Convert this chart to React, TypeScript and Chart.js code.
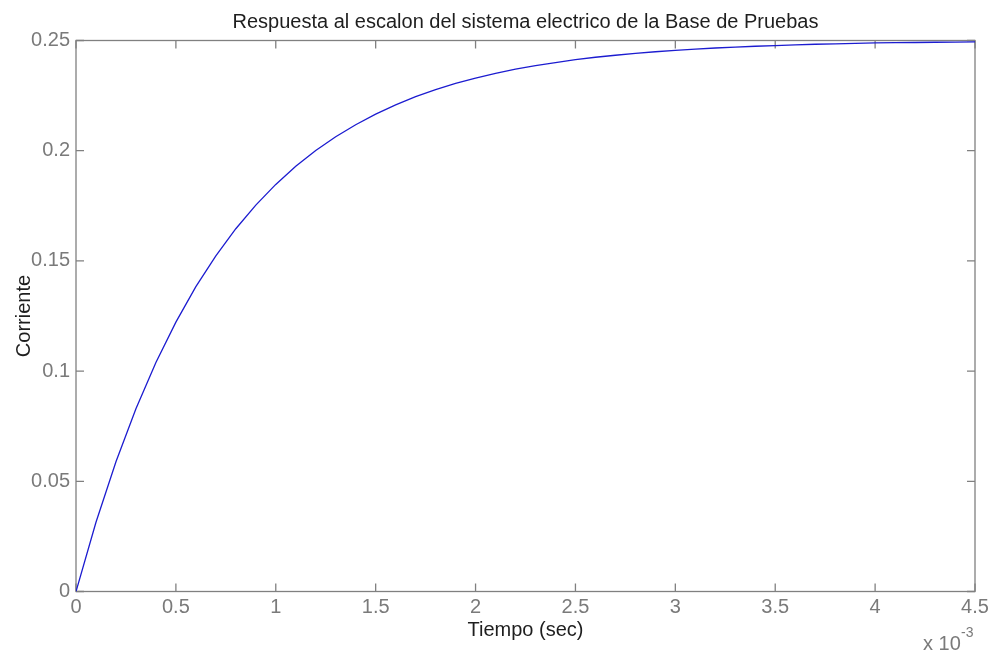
import React, { useEffect, useRef } from "react";
import { Chart, registerables } from "chart.js";

Chart.register(...registerables);

// Time in units of 10^-3 s
const timeMs = [
  0, 0.1, 0.2, 0.3, 0.4, 0.5, 0.6, 0.7, 0.8, 0.9, 1.0, 1.1, 1.2, 1.3, 1.4,
  1.5, 1.6, 1.7, 1.8, 1.9, 2.0, 2.1, 2.2, 2.3, 2.4, 2.5, 2.6, 2.7, 2.8, 2.9,
  3.0, 3.1, 3.2, 3.3, 3.4, 3.5, 3.6, 3.7, 3.8, 3.9, 4.0, 4.1, 4.2, 4.3, 4.4,
  4.5,
];
const current = [
  0, 0.0314, 0.0589, 0.0829, 0.1039, 0.1222, 0.1383, 0.1523, 0.1646, 0.1753,
  0.1847, 0.1929, 0.2001, 0.2063, 0.2118, 0.2166, 0.2208, 0.2245, 0.2277,
  0.2305, 0.2329, 0.2351, 0.237, 0.2386, 0.24, 0.2413, 0.2424, 0.2433,
  0.2442, 0.2449, 0.2455, 0.2461, 0.2466, 0.247, 0.2474, 0.2477, 0.248,
  0.2483, 0.2485, 0.2487, 0.2489, 0.249, 0.2491, 0.2492, 0.2493, 0.2494,
];
const xTicks = [0, 0.5, 1, 1.5, 2, 2.5, 3, 3.5, 4, 4.5];
const xTickLabels = ["0", "0.5", "1", "1.5", "2", "2.5", "3", "3.5", "4", "4.5"];
const yTicks = [0, 0.05, 0.1, 0.15, 0.2, 0.25];
const yTickLabels = ["0", "0.05", "0.1", "0.15", "0.2", "0.25"];
const titleText = "Respuesta al escalon del sistema electrico de la Base de Pruebas";
const xLabel = "Tiempo (sec)";
const yLabel = "Corriente";
const xMultiplier = "x 10";
const xExponent = "-3";

const FONT = "'Liberation Sans', Arial, sans-serif";
const AXIS_COLOR = "#808080";
const TICK_TEXT = "#7a7a7a";
const LABEL_TEXT = "#1e1e1e";

const framePlugin = {
  id: "matlabFrame",
  beforeDatasetsDraw(chart: any) {
    const { ctx, chartArea, scales } = chart;
    const { left, right, top, bottom } = chartArea;
    ctx.save();
    ctx.strokeStyle = AXIS_COLOR;
    ctx.lineWidth = 1.3;
    ctx.strokeRect(left, top, right - left, bottom - top);
    const tl = 8;
    ctx.beginPath();
    xTicks.forEach((v) => {
      const px = scales.x.getPixelForValue(v);
      ctx.moveTo(px, bottom);
      ctx.lineTo(px, bottom - tl);
      ctx.moveTo(px, top);
      ctx.lineTo(px, top + tl);
    });
    yTicks.forEach((v) => {
      const py = scales.y.getPixelForValue(v);
      ctx.moveTo(left, py);
      ctx.lineTo(left + tl, py);
      ctx.moveTo(right, py);
      ctx.lineTo(right - tl, py);
    });
    ctx.stroke();
    ctx.restore();
  },
  afterDraw(chart: any) {
    const { ctx, chartArea } = chart;
    const { left, right, top, bottom } = chartArea;
    const cx = (left + right) / 2;
    const cy = (top + bottom) / 2;
    ctx.save();
    ctx.font = `20px ${FONT}`;
    ctx.fillStyle = LABEL_TEXT;
    ctx.textAlign = "center";
    ctx.textBaseline = "alphabetic";
    ctx.fillText(titleText, cx, 28);
    ctx.fillText(xLabel, cx, 636);
    ctx.save();
    ctx.translate(30, cy);
    ctx.rotate(-Math.PI / 2);
    ctx.fillText(yLabel, 0, 0);
    ctx.restore();
    ctx.fillStyle = TICK_TEXT;
    ctx.textAlign = "left";
    ctx.fillText(xMultiplier, 923, 650);
    ctx.font = `14px ${FONT}`;
    ctx.fillText(xExponent, 961, 637);
    ctx.restore();
  },
};

export default function App() {
  const ref = useRef<HTMLCanvasElement | null>(null);
  useEffect(() => {
    if (!ref.current) return;
    const chart = new Chart(ref.current, {
      type: "line",
      data: {
        datasets: [
          {
            data: timeMs.map((t, i) => ({ x: t, y: current[i] })),
            borderColor: "#1c1cd0",
            borderWidth: 1.3,
            pointRadius: 0,
            tension: 0,
            fill: false,
          },
        ],
      },
      options: {
        animation: false,
        responsive: false,
        devicePixelRatio: 1,
        layout: { padding: { left: 0, top: 40.5, right: 18, bottom: 0 } },
        plugins: {
          legend: { display: false },
          title: { display: false },
          tooltip: { enabled: false },
        },
        scales: {
          x: {
            type: "linear",
            min: 0,
            max: 4.5,
            grid: { display: false, drawTicks: false },
            border: { display: false },
            afterBuildTicks: (scale: any) => {
              scale.ticks = xTicks.map((v) => ({ value: v }));
            },
            afterFit: (scale: any) => {
              scale.height = 64.5;
            },
            ticks: {
              autoSkip: false,
              maxRotation: 0,
              padding: 4,
              color: TICK_TEXT,
              font: { family: FONT, size: 20 },
              callback: (v: any) => {
                const i = xTicks.findIndex((t) => Math.abs(t - Number(v)) < 1e-9);
                return i >= 0 ? xTickLabels[i] : "";
              },
            },
          },
          y: {
            type: "linear",
            min: 0,
            max: 0.25,
            grid: { display: false, drawTicks: false },
            border: { display: false },
            afterBuildTicks: (scale: any) => {
              scale.ticks = yTicks.map((v) => ({ value: v }));
            },
            afterFit: (scale: any) => {
              scale.width = 76;
            },
            ticks: {
              autoSkip: false,
              padding: 6,
              color: TICK_TEXT,
              font: { family: FONT, size: 20 },
              callback: (v: any) => {
                const i = yTicks.findIndex((t) => Math.abs(t - Number(v)) < 1e-9);
                return i >= 0 ? yTickLabels[i] : "";
              },
            },
          },
        },
      },
      plugins: [framePlugin],
    } as any);
    return () => chart.destroy();
  }, []);
  return (
    <div style={{ position: "absolute", left: 0, top: 0, width: 993, height: 656, background: "#ffffff" }}>
      <canvas ref={ref} width={993} height={656} style={{ display: "block" }} />
    </div>
  );
}
